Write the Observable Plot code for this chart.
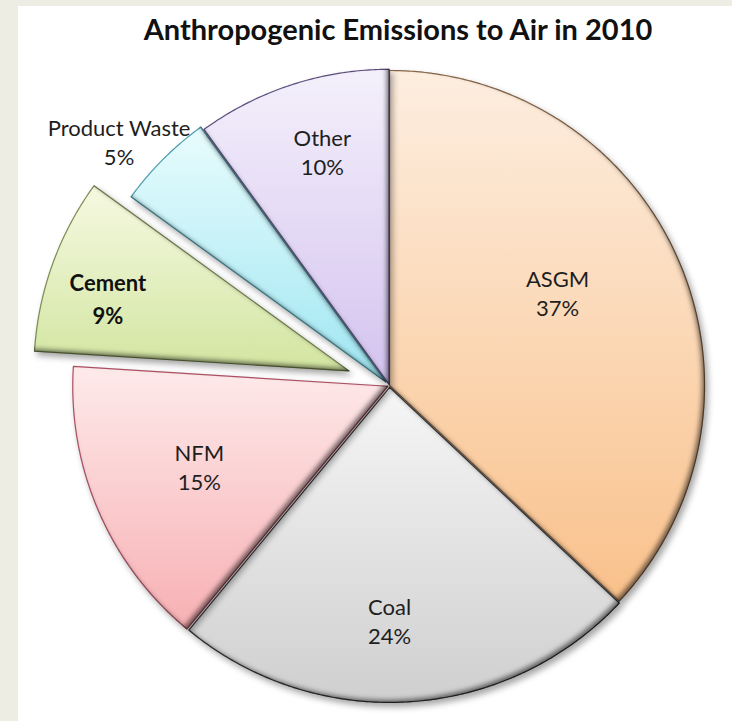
<!DOCTYPE html>
<html>
<head>
<meta charset="utf-8">
<script src="https://cdn.jsdelivr.net/npm/d3@7"></script>
<script src="https://cdn.jsdelivr.net/npm/@observablehq/plot@0.6"></script>
<style>
  html, body { margin: 0; padding: 0; width: 732px; height: 721px; overflow: hidden; background: #eeede4; }
  #page { position: absolute; left: 18px; top: 6px; width: 714px; height: 715px; background: #fff; }
  #title { position: absolute; left: 0; top: 8px; width: 760px; text-align: center;
           font-family: Lato, "Open Sans", sans-serif; font-weight: bold; font-size: 29px; line-height: 29px; color: #111; }
  #chart { position: absolute; left: 0; top: 44px; }
</style>
</head>
<body>
<svg width="0" height="0" style="position:absolute">
  <defs id="defs"></defs>
</svg>
<div id="page">
  <div id="title">Anthropogenic Emissions to Air in 2010</div>
  <div id="chart"></div>
</div>
<script>
// ---- data ----
const categories = ["ASGM", "Coal", "NFM", "Cement", "Product Waste", "Other"];
const shares = [37, 24, 15, 9, 5, 10];
const emphasized = ["Cement"];

// ---- layout & style (not data) ----
const explode = [0, 0.006, 0.006, 0.137, 0.016, 0.004];          // in radius units
const labelPolar = [[61, 0.61], [180, 0.74], [247, 0.65], [287, 0.80], [312, 1.14], [344, 0.77]];
const palette = [
  {top: "#fdeee0", bottom: "#f9c18b", stroke: "#8f6c4c"},
  {top: "#f6f6f6", bottom: "#cfcfcf", stroke: "#3a3a3a"},
  {top: "#feeaea", bottom: "#f7b0b4", stroke: "#b55568"},
  {top: "#f6f9e2", bottom: "#d2e5a0", stroke: "#7f9055"},
  {top: "#e8fcfd", bottom: "#9fe6f2", stroke: "#4d9fb0"},
  {top: "#f4f0fb", bottom: "#d4c3ef", stroke: "#5e5080"}
];

const R = 315, W = 714, H = 671, cx = 371, cy = 335;

// gradients + filter
const defs = d3.select("#defs");
palette.forEach((p, i) => {
  const g = defs.append("linearGradient").attr("id", "g" + i)
    .attr("x1", 0).attr("y1", 0).attr("x2", 0).attr("y2", 1);
  g.append("stop").attr("offset", "0%").attr("stop-color", p.top);
  g.append("stop").attr("offset", "100%").attr("stop-color", p.bottom);
});
defs.html(defs.html() + `
<filter id="fx" x="-20%" y="-20%" width="140%" height="140%" color-interpolation-filters="sRGB">
  <feGaussianBlur in="SourceAlpha" stdDeviation="3" result="b"/>
  <feOffset in="b" dx="3" dy="4" result="ob"/>
  <feFlood flood-color="#000" flood-opacity="0.35"/>
  <feComposite in2="ob" operator="in" result="drop"/>
  <feOffset in="SourceAlpha" dx="-3" dy="-3" result="sh"/>
  <feGaussianBlur in="sh" stdDeviation="2.5" result="shb"/>
  <feComposite in="SourceAlpha" in2="shb" operator="out" result="innerMask"/>
  <feFlood flood-color="#000" flood-opacity="0.55"/>
  <feComposite in2="innerMask" operator="in" result="inner"/>
  <feMerge><feMergeNode in="drop"/><feMergeNode in="SourceGraphic"/><feMergeNode in="inner"/></feMerge>
</filter>`);

// geometry from data
const total = d3.sum(shares);
let acc = 0;
const slices = categories.map((name, i) => {
  const a0 = acc / total * 2 * Math.PI;
  acc += shares[i];
  const a1 = acc / total * 2 * Math.PI;
  const mid = (a0 + a1) / 2;
  const ox = explode[i] * Math.sin(mid), oy = explode[i] * Math.cos(mid);
  const n = Math.max(2, Math.ceil((a1 - a0) / (Math.PI / 360)));
  const pts = [{x: ox, y: oy}];
  for (let k = 0; k <= n; k++) {
    const a = a0 + (a1 - a0) * k / n;
    pts.push({x: ox + Math.sin(a), y: oy + Math.cos(a)});
  }
  pts.push({x: ox, y: oy});
  const [la, lr] = labelPolar[i];
  const lrad = la * Math.PI / 180;
  return {name, share: shares[i], pts, i,
    label: {x: ox + lr * Math.sin(lrad), y: oy + lr * Math.cos(lrad), text: `${name}\n${shares[i]}%`, bold: emphasized.includes(name)}};
});

const labels = slices.map(s => s.label);
const font = "Lato, 'Open Sans', sans-serif";

const chart = Plot.plot({
  width: W, height: H,
  marginTop: 0, marginRight: 0, marginBottom: 0, marginLeft: 0,
  x: {domain: [-cx / R, (W - cx) / R], axis: null},
  y: {domain: [-(H - cy) / R, cy / R], axis: null},
  style: {background: "transparent", overflow: "visible"},
  marks: [
    ...slices.map(s => Plot.line(s.pts, {
      x: "x", y: "y", fill: `url(#g${s.i})`, stroke: palette[s.i].stroke, strokeWidth: 1.2, curve: "linear"
    })),
    Plot.text(labels.filter(d => !d.bold), {x: "x", y: "y", text: "text", fontSize: 22, lineHeight: 1.32, fill: "#1e1e1e", fontFamily: font}),
    Plot.text(labels.filter(d => d.bold), {x: "x", y: "y", text: "text", fontSize: 22, lineHeight: 1.5, fontWeight: "bold", fill: "#111", fontFamily: font})
  ]
});
d3.select(chart).selectAll("g[aria-label='line'] path").attr("filter", "url(#fx)");
document.getElementById("chart").appendChild(chart);
</script>
</body>
</html>
